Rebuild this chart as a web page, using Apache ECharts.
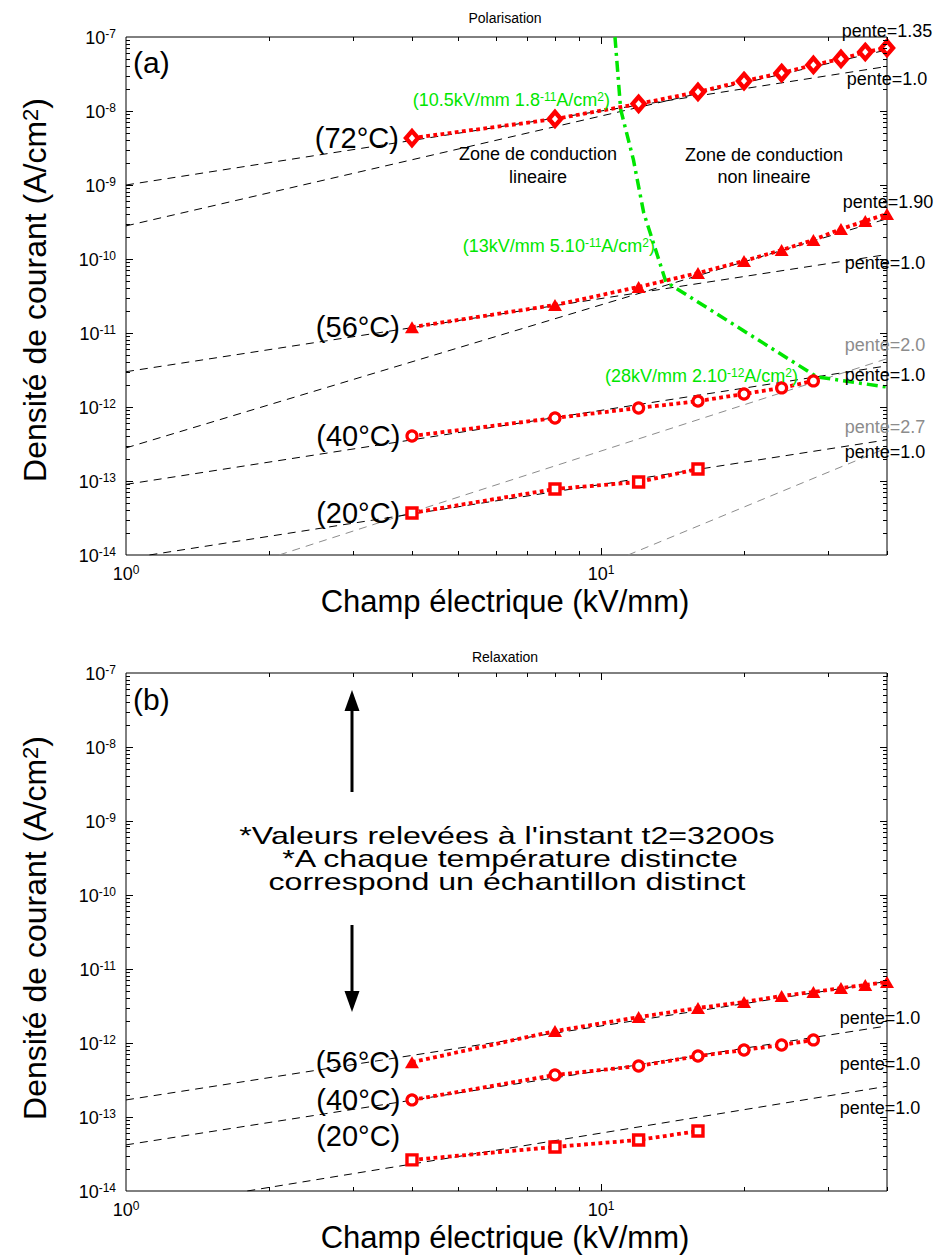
<!DOCTYPE html>
<html><head><meta charset="utf-8">
<script src="https://cdn.jsdelivr.net/npm/echarts@6/dist/echarts.min.js"></script>
<style>html,body{margin:0;padding:0;background:#fff}#c{width:938px;height:1257px}</style>
</head><body><div id="c"></div>
<script>
const FONT = '"Liberation Sans", Arial, Helvetica, sans-serif';

// ---------------- DATA ----------------
const xField = [4, 8, 12, 16, 20, 24, 28, 32, 36, 40];           // kV/mm
// (a) Polarisation
const polJ72 = [4.3e-9, 7.8e-9, 1.25e-8, 1.81e-8, 2.54e-8, 3.26e-8, 4.19e-8, 5.05e-8, 6.27e-8, 7.1e-8];
const polJ56 = [1.2e-11, 2.39e-11, 4.19e-11, 6.47e-11, 9.4e-11, 1.32e-10, 1.81e-10, 2.54e-10, 3.26e-10, 4.06e-10];
const polJ40 = [4.06e-13, 7.1e-13, 9.7e-13, 1.2e-12, 1.5e-12, 1.81e-12, 2.25e-12];
const polJ20 = [3.7e-14, 7.8e-14, 9.7e-14, 1.45e-13];
// (b) Relaxation
const relJ56 = [5.5e-13, 1.45e-12, 2.24e-12, 2.97e-12, 3.58e-12, 4.32e-12, 4.89e-12, 5.53e-12, 6.08e-12, 6.67e-12];
const relJ40 = [1.7e-13, 3.7e-13, 4.89e-13, 6.67e-13, 8.04e-13, 9.4e-13, 1.1e-12];
const relJ20 = [2.63e-14, 3.94e-14, 4.89e-14, 6.46e-14];
// slope guides: start / end points [E, J]
const polGuideStart = [[1, 1e-9], [1, 2.8e-10], [1, 3e-12], [1, 2.8e-13], [1, 9e-14], [2.1, 1e-14], [1.12, 1e-14], [11.4, 1e-14]];
const polGuideEnd   = [[40, 4e-8], [40, 6.7e-8], [40, 1.15e-10], [40, 3.5e-10], [40, 3.6e-12], [40, 4.5e-12], [40, 3.6e-13], [40, 2.8e-13]];
const polGuideGray  = [false, false, false, false, false, true, false, true];
const relGuideStart = [[1, 1.7e-13], [1, 4.2e-14], [1.8, 1e-14]];
const relGuideEnd   = [[40, 6.8e-12], [40, 1.7e-12], [40, 2.6e-13]];
// linear / non-linear boundary
const boundaryE = [10.7, 11.0, 11.7, 12.3, 13.7, 28.5, 40];
const boundaryJ = [1e-7, 1.05e-8, 2.2e-9, 4.2e-10, 4.9e-11, 2.55e-12, 1.86e-12];

// ---------------- CHART ----------------
const chart = echarts.init(document.getElementById('c'), null, {renderer: 'svg', width: 938, height: 1257});

function expLabel(v) {
  const e = Math.log10(v), r = Math.round(e);
  if (Math.abs(e - r) > 1e-6) return '';
  return '{b|10}{s|' + r + '}';
}
const supRich = {
  b: {fontSize: 18, fontFamily: FONT, color: '#000', lineHeight: 19, verticalAlign: 'bottom'},
  s: {fontSize: 12, fontFamily: FONT, color: '#000', lineHeight: 12, padding: [0, 0, 10, 0], verticalAlign: 'top'}
};
function pairs(xs, ys) { return ys.map((y, i) => [xs[i], y]); }

function tempSeries(grid, ys, symbol, size, filled, label, bw, labelDy) {
  const data = pairs(xField, ys).map((p, i) => i === 0 ? {
    value: p,
    label: {show: true, formatter: label, position: 'left', distance: 5, offset: [0, labelDy || 0],
      fontSize: 29, fontFamily: FONT, color: '#000'}
  } : {value: p});
  return {
    type: 'line', xAxisIndex: grid, yAxisIndex: grid, data: data, symbol: symbol, symbolSize: size,
    showAllSymbol: true, clip: false, animation: false, silent: true, z: 5,
    lineStyle: {color: '#ff0000', width: 3.8, type: [3.8, 3.4]},
    itemStyle: {color: filled ? '#ff0000' : '#ffffff', borderColor: '#ff0000', borderWidth: filled ? 0 : bw}
  };
}
function guideSeries(grid, s, e, gray) {
  return {
    type: 'line', xAxisIndex: grid, yAxisIndex: grid, data: [s, e], symbol: 'none', silent: true,
    animation: false, z: 2, lineStyle: {color: gray ? '#8c8c8c' : '#000000', width: 1, type: [8, 6]}
  };
}

const series = [];
polGuideStart.forEach((s, i) => series.push(guideSeries(0, s, polGuideEnd[i], polGuideGray[i])));
relGuideStart.forEach((s, i) => series.push(guideSeries(1, s, relGuideEnd[i], false)));
series.push({
  type: 'line', xAxisIndex: 0, yAxisIndex: 0, data: pairs(boundaryE, boundaryJ), symbol: 'none',
  silent: true, animation: false, z: 4, lineStyle: {color: '#00e600', width: 3.5, type: [11, 5, 3, 5]}
});
series.push(tempSeries(0, polJ72, 'diamond', [12, 14], false, '(72°C)', 4.4));
series.push(tempSeries(0, polJ56, 'triangle', [14, 12], true, '(56°C)', 0));
series.push(tempSeries(0, polJ40, 'circle', 10, false, '(40°C)', 3.2));
series.push(tempSeries(0, polJ20, 'rect', 10, false, '(20°C)', 3.4));
series.push(tempSeries(1, relJ56, 'triangle', [14, 12], true, '(56°C)', 0));
series.push(tempSeries(1, relJ40, 'circle', 10, false, '(40°C)', 3.2));
series.push(tempSeries(1, relJ20, 'rect', 10, false, '(20°C)', 3.4, -24));

function xAxis(g) {
  return {type: 'log', logBase: 10, min: 1, max: 40, gridIndex: g,
    axisLine: {show: false}, axisTick: {show: false}, splitLine: {show: false}, minorTick: {show: false},
    axisLabel: {formatter: expLabel, rich: supRich, margin: 9, showMaxLabel: false}};
}
function yAxis(g) {
  return {type: 'log', logBase: 10, min: 1e-14, max: 1e-7, gridIndex: g,
    axisLine: {show: false}, axisTick: {show: false}, splitLine: {show: false}, minorTick: {show: false},
    axisLabel: {formatter: expLabel, rich: supRich, margin: 10}};
}
const gridBase = {left: 126, width: 761, height: 518, show: true, borderColor: '#000', borderWidth: 1, backgroundColor: 'transparent', containLabel: false};

chart.setOption({
  backgroundColor: '#ffffff',
  animation: false,
  grid: [Object.assign({top: 37}, gridBase), Object.assign({top: 673}, gridBase)],
  xAxis: [xAxis(0), xAxis(1)],
  yAxis: [yAxis(0), yAxis(1)],
  series: series
});

// ---------------- ANNOTATIONS ----------------
const els = [];
function txt(x, y, text, size, opts) {
  opts = opts || {};
  els.push({
    type: 'text', x: x, y: y, rotation: opts.rot || 0, scaleX: opts.sx || 1, silent: true, z: 20,
    style: {text: text, fontSize: size, fontFamily: FONT, fill: opts.color || '#000',
      align: opts.align || 'center', verticalAlign: 'middle', rich: opts.rich, lineHeight: opts.lh}
  });
}
function richSup(size, color) {
  const ss = Math.round(size * 0.68);
  return {
    b: {fontSize: size, fontFamily: FONT, fill: color, color: color, lineHeight: size, verticalAlign: 'bottom'},
    s: {fontSize: ss, fontFamily: FONT, fill: color, color: color, lineHeight: ss, padding: [0, 0, Math.round(size * 0.5), 0], verticalAlign: 'top'}
  };
}
txt(505, 18, 'Polarisation', 14);
txt(505, 657, 'Relaxation', 14);
txt(133, 62, '(a)', 30, {align: 'left'});
txt(133, 699, '(b)', 30, {align: 'left'});
txt(505, 601, 'Champ électrique (kV/mm)', 31);
txt(505, 1237, 'Champ électrique (kV/mm)', 31);
txt(35, 290, '{b|Densité de courant (A/cm}{s|2}{b|)}', 32, {rot: Math.PI / 2, rich: richSup(32, '#000')});
txt(35, 928, '{b|Densité de courant (A/cm}{s|2}{b|)}', 32, {rot: Math.PI / 2, rich: richSup(32, '#000')});
txt(538, 154, 'Zone de conduction', 18);
txt(538, 177, 'lineaire', 18);
txt(764, 155, 'Zone de conduction', 18);
txt(764, 177, 'non lineaire', 18);
const G = '#00e600';
txt(610, 100, '{b|(10.5kV/mm 1.8}{s|-11}{b|A/cm}{s|2}{b|)}', 18, {align: 'right', color: G, rich: richSup(18, G)});
txt(655, 246, '{b|(13kV/mm 5.10}{s|-11}{b|A/cm}{s|2}{b|)}', 18, {align: 'right', color: G, rich: richSup(18, G)});
txt(798, 376, '{b|(28kV/mm 2.10}{s|-12}{b|A/cm}{s|2}{b|)}', 18, {align: 'right', color: G, rich: richSup(18, G)});
txt(887, 31, 'pente=1.35', 18);
txt(887, 79, 'pente=1.0', 18);
txt(888, 202, 'pente=1.90', 18);
txt(885, 263, 'pente=1.0', 18);
txt(885, 345, 'pente=2.0', 18, {color: '#8c8c8c'});
txt(885, 375, 'pente=1.0', 18);
txt(885, 427, 'pente=2.7', 18, {color: '#8c8c8c'});
txt(885, 452, 'pente=1.0', 18);
txt(880, 1018, 'pente=1.0', 18);
txt(880, 1064, 'pente=1.0', 18);
txt(880, 1108, 'pente=1.0', 18);
txt(507, 836, "*Valeurs relevées à l'instant t2=3200s", 24, {sx: 1.34});
txt(510, 859, '*A chaque température distincte', 24, {sx: 1.34});
txt(507, 882, 'correspond un échantillon distinct', 24, {sx: 1.34});
// arrows
els.push({type: 'line', silent: true, shape: {x1: 352, y1: 792, x2: 352, y2: 705}, style: {stroke: '#000', lineWidth: 3}});
els.push({type: 'polygon', silent: true, shape: {points: [[344.5, 711], [359.5, 711], [352, 690]]}, style: {fill: '#000'}});
els.push({type: 'line', silent: true, shape: {x1: 352, y1: 925, x2: 352, y2: 995}, style: {stroke: '#000', lineWidth: 3}});
els.push({type: 'polygon', silent: true, shape: {points: [[344.5, 991], [359.5, 991], [352, 1012]]}, style: {fill: '#000'}});

// ticks (inward, on all four sides), positioned through the axes' scales
function tickLine(x1, y1, x2, y2) {
  els.push({type: 'line', silent: true, z: 15, shape: {x1: x1, y1: y1, x2: x2, y2: y2}, style: {stroke: '#000', lineWidth: 1}});
}
[0, 1].forEach(g => {
  const lo = chart.convertToPixel({gridIndex: g}, [1, 1e-14]);
  const hi = chart.convertToPixel({gridIndex: g}, [40, 1e-7]);
  const xL = lo[0], xR = hi[0], yB = lo[1], yT = hi[1];
  [1, 10].forEach(dec => {
    for (let k = 1; k <= 9; k++) {
      const v = k * dec;
      if (v > 40 || (k === 1 && dec === 1)) continue;
      const px = Math.round(chart.convertToPixel({gridIndex: g}, [v, 1e-10])[0]) + 0.5;
      const len = k === 1 ? 7 : 4;
      tickLine(px, yB, px, yB - len);
      tickLine(px, yT, px, yT + len);
    }
  });
  for (let e = -14; e <= -8; e++) {
    for (let k = 1; k <= 9; k++) {
      if (e === -14 && k === 1) continue;
      const v = k * Math.pow(10, e);
      const py = Math.round(chart.convertToPixel({gridIndex: g}, [5, v])[1]) + 0.5;
      const len = k === 1 ? 7 : 4;
      tickLine(xL, py, xL + len, py);
      tickLine(xR, py, xR - len, py);
    }
  }
});
chart.setOption({graphic: {elements: els}});
</script></body></html>
